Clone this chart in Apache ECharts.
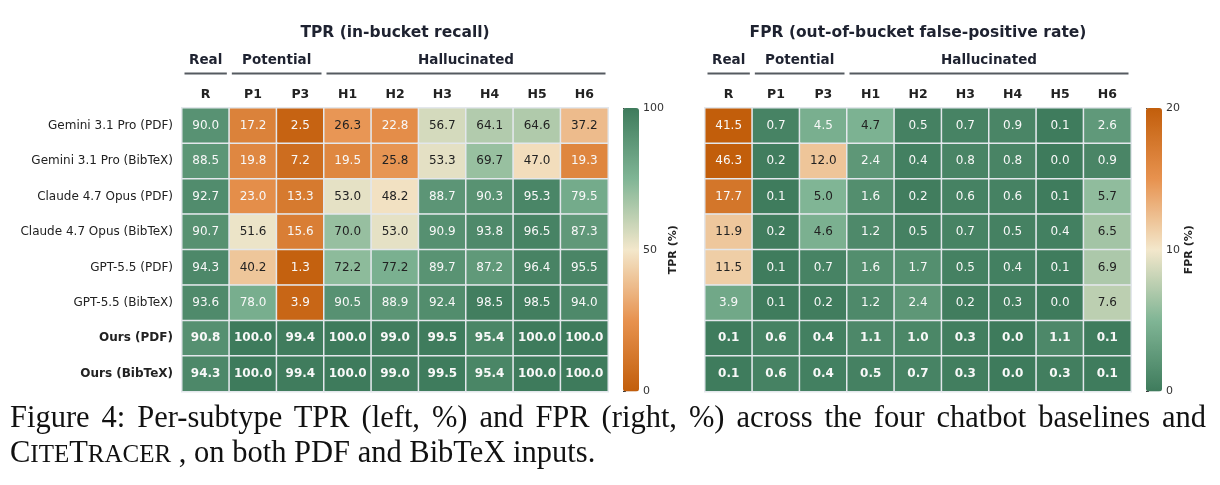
<!DOCTYPE html>
<html>
<head>
<meta charset="utf-8">
<script src="https://cdn.jsdelivr.net/npm/echarts@6/dist/echarts.min.js"></script>
<style>
body { margin: 0; background: #fff; }
#wrap { position: relative; width: 1220px; height: 485px; }
#chart { width: 1220px; height: 485px; }
#caption { position: absolute; left: 10px; top: 400px; width: 1196px;
	font-family: 'Liberation Serif', serif; font-size: 30.5px; line-height: 35px; color: #111; }
#caption .l1 { display: block; text-align: justify; text-align-last: justify; white-space: nowrap; }
#caption .l2 { display: block; }
.sm { font-size: 0.82em; }
</style>
</head>
<body>
<div id="wrap">
	<div id="chart"></div>
	<div id="caption">
		<span class="l1">Figure 4: Per-subtype TPR (left, %) and FPR (right, %) across the four chatbot baselines and</span>
		<span class="l2">C<span class="sm">ITE</span>T<span class="sm">RACER</span> , on both PDF and BibTeX inputs.</span>
	</div>
</div>

<script>

var rowNames = ['Gemini 3.1 Pro (PDF)', 'Gemini 3.1 Pro (BibTeX)', 'Claude 4.7 Opus (PDF)', 'Claude 4.7 Opus (BibTeX)',
	'GPT-5.5 (PDF)', 'GPT-5.5 (BibTeX)', 'Ours (PDF)', 'Ours (BibTeX)'];
var colNames = ['R', 'P1', 'P3', 'H1', 'H2', 'H3', 'H4', 'H5', 'H6'];
var groups = [
	{name: 'Real', from: 'R', to: 'R'},
	{name: 'Potential', from: 'P1', to: 'P3'},
	{name: 'Hallucinated', from: 'H1', to: 'H6'}
];

var tprValues = [
	[90.0, 17.2, 2.5, 26.3, 22.8, 56.7, 64.1, 64.6, 37.2],
	[88.5, 19.8, 7.2, 19.5, 25.8, 53.3, 69.7, 47.0, 19.3],
	[92.7, 23.0, 13.3, 53.0, 48.2, 88.7, 90.3, 95.3, 79.5],
	[90.7, 51.6, 15.6, 70.0, 53.0, 90.9, 93.8, 96.5, 87.3],
	[94.3, 40.2, 1.3, 72.2, 77.2, 89.7, 87.2, 96.4, 95.5],
	[93.6, 78.0, 3.9, 90.5, 88.9, 92.4, 98.5, 98.5, 94.0],
	[90.8, 100.0, 99.4, 100.0, 99.0, 99.5, 95.4, 100.0, 100.0],
	[94.3, 100.0, 99.4, 100.0, 99.0, 99.5, 95.4, 100.0, 100.0]
];

var fprValues = [
	[41.5, 0.7, 4.5, 4.7, 0.5, 0.7, 0.9, 0.1, 2.6],
	[46.3, 0.2, 12.0, 2.4, 0.4, 0.8, 0.8, 0.0, 0.9],
	[17.7, 0.1, 5.0, 1.6, 0.2, 0.6, 0.6, 0.1, 5.7],
	[11.9, 0.2, 4.6, 1.2, 0.5, 0.7, 0.5, 0.4, 6.5],
	[11.5, 0.1, 0.7, 1.6, 1.7, 0.5, 0.4, 0.1, 6.9],
	[3.9, 0.1, 0.2, 1.2, 2.4, 0.2, 0.3, 0.0, 7.6],
	[0.1, 0.6, 0.4, 1.1, 1.0, 0.3, 0.0, 1.1, 0.1],
	[0.1, 0.6, 0.4, 0.5, 0.7, 0.3, 0.0, 0.3, 0.1]
];

var tprMax = 100, tprTickStep = 50;
var fprMax = 20, fprTickStep = 10;

// orange -> cream -> green
var cmap = ['#c25e0b', '#e7924f', '#f3e7cb', '#80b595', '#3e7b5c'];

var FONT = 'DejaVu Sans';

function buildCells(values, max, flip) {
	var out = [];
	values.forEach(function (row, r) {
		row.forEach(function (v, c) {
			var clipped = Math.min(v, max);
			var t = clipped / max;
			if (flip) t = 1 - t;
			var dark = t >= 0.24 && t < 0.7725;
			var bold = rowNames[r].indexOf('Ours') === 0;
			out.push({
				value: [c, r, clipped, v],
				label: {color: dark ? '#222222' : '#f8f8f8', fontWeight: bold ? 'bold' : 'normal'}
			});
		});
	});
	return out;
}

var grids = [
	{left: 182, top: 108, width: 426, height: 283.5},
	{left: 705, top: 108, width: 426, height: 283.5},
	{left: 623, top: 108, width: 16, height: 283.5},
	{left: 1146, top: 108, width: 16, height: 283.5}
];

function cellXAxis(gi) {
	return {
		type: 'category', gridIndex: gi, data: colNames, position: 'top',
		axisLine: {show: false}, axisTick: {show: false},
		axisLabel: {fontFamily: FONT, fontSize: 12.5, fontWeight: 'bold', color: '#222', margin: 7}
	};
}

function cellYAxis(gi, showLabels) {
	return {
		type: 'category', gridIndex: gi, data: rowNames, inverse: true,
		axisLine: {show: false}, axisTick: {show: false},
		axisLabel: {
			show: showLabels, fontFamily: FONT, fontSize: 12, color: '#222', margin: 9,
			formatter: function (v) { return v.indexOf('Ours') === 0 ? '{b|' + v + '}' : v; },
			rich: {b: {fontFamily: FONT, fontSize: 12, fontWeight: 'bold', color: '#222'}}
		}
	};
}

function barYAxis(gi, max, step, name) {
	return {
		type: 'value', gridIndex: gi, min: 0, max: max, interval: step, position: 'right',
		axisLine: {show: false}, splitLine: {show: false},
		axisTick: {show: true, length: 3, lineStyle: {color: '#333'}},
		axisLabel: {fontFamily: FONT, fontSize: 11, color: '#333', margin: 4},
		name: name, nameLocation: 'middle', nameRotate: 90, nameGap: 21,
		nameTextStyle: {fontFamily: FONT, fontSize: 11, fontWeight: 'bold', color: '#222'}
	};
}

function heatSeries(idx, values, max, flip) {
	return {
		type: 'heatmap', xAxisIndex: idx, yAxisIndex: idx,
		data: buildCells(values, max, flip),
		itemStyle: {borderColor: '#e3e7ec', borderWidth: 1.5},
		label: {
			show: true, fontFamily: FONT, fontSize: 12,
			formatter: function (p) { return p.value[3].toFixed(1); }
		},
		emphasis: {disabled: true},
		silent: true
	};
}

var chart = echarts.init(document.getElementById('chart'));

var option = {
	animation: false,
	grid: grids,
	xAxis: [cellXAxis(0), cellXAxis(1),
		{type: 'value', gridIndex: 2, show: false, min: 0, max: 1},
		{type: 'value', gridIndex: 3, show: false, min: 0, max: 1}],
	yAxis: [cellYAxis(0, true), cellYAxis(1, false),
		barYAxis(2, tprMax, tprTickStep, 'TPR (%)'),
		barYAxis(3, fprMax, fprTickStep, 'FPR (%)')],
	visualMap: [
		{
			type: 'continuous', seriesIndex: 0, dimension: 2, min: 0, max: tprMax,
			calculable: false, orient: 'vertical', left: 623, top: 108,
			itemWidth: 16, itemHeight: 283.5, padding: 0,
			inRange: {color: cmap}
		},
		{
			type: 'continuous', seriesIndex: 1, dimension: 2, min: 0, max: fprMax,
			calculable: false, orient: 'vertical', left: 1146, top: 108,
			itemWidth: 16, itemHeight: 283.5, padding: 0,
			inRange: {color: cmap.slice().reverse()}
		}
	],
	series: [
		heatSeries(0, tprValues, tprMax, false),
		heatSeries(1, fprValues, fprMax, true),
		{type: 'scatter', xAxisIndex: 2, yAxisIndex: 2, data: [], silent: true},
		{type: 'scatter', xAxisIndex: 3, yAxisIndex: 3, data: [], silent: true}
	]
};

chart.setOption(option);

// titles + group headers, placed from the category axes
var titles = ['TPR (in-bucket recall)', 'FPR (out-of-bucket false-positive rate)'];
var graphics = [];
[0, 1].forEach(function (xi) {
	var x0 = chart.convertToPixel({xAxisIndex: xi}, colNames[0]);
	var x1 = chart.convertToPixel({xAxisIndex: xi}, colNames[1]);
	var band = x1 - x0;
	var xl = chart.convertToPixel({xAxisIndex: xi}, colNames[colNames.length - 1]);
	graphics.push({
		type: 'text', x: (x0 + xl) / 2, y: 33,
		style: {text: titles[xi], font: 'bold 15.5px "DejaVu Sans"', fill: '#1e2230',
			align: 'center', verticalAlign: 'middle', textAlign: 'center', textVerticalAlign: 'middle'}
	});
	groups.forEach(function (g) {
		var a = chart.convertToPixel({xAxisIndex: xi}, g.from) - band / 2;
		var b = chart.convertToPixel({xAxisIndex: xi}, g.to) + band / 2;
		graphics.push({
			type: 'text', x: (a + b) / 2, y: 60.5,
			style: {text: g.name, font: 'bold 13.5px "DejaVu Sans"', fill: '#1e2230',
				align: 'center', verticalAlign: 'middle', textAlign: 'center', textVerticalAlign: 'middle'}
		});
		graphics.push({
			type: 'line', shape: {x1: a + 2.5, y1: 73.5, x2: b - 2.5, y2: 73.5},
			style: {stroke: '#555a60', lineWidth: 2}
		});
	});
});
chart.setOption({graphic: graphics});

</script>
</body>
</html>
